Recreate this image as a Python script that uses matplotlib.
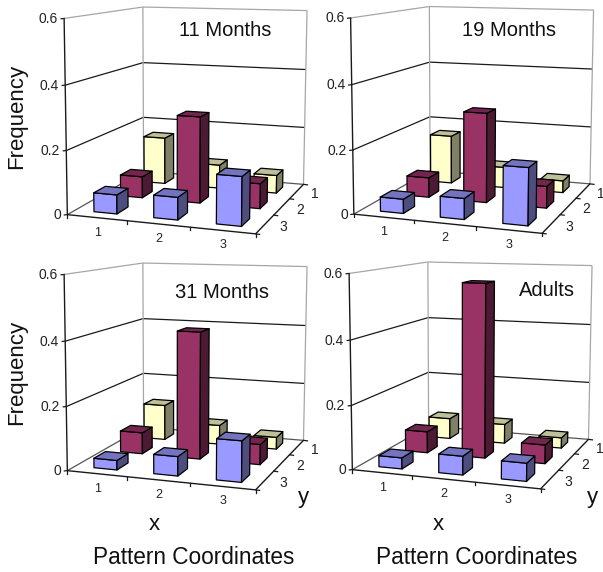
import numpy as np
import matplotlib
matplotlib.use("Agg")
import matplotlib.pyplot as plt
from matplotlib.patches import Polygon

plt.rcParams['font.family'] = ['Liberation Sans', 'DejaVu Sans']

# Frequencies: rows are y = 3 (front, blue), y = 2 (maroon), y = 1 (back, yellow); columns x = 1, 2, 3
titles = ["11 Months", "19 Months", "31 Months", "Adults"]
freq_11 = [[.06, .07, .15], [.07, .28, .08], [.16, .08, .06]]
freq_19 = [[.045, .065, .175], [.065, .29, .07], [.165, .07, .04]]
freq_31 = [[.03, .06, .125], [.07, .41, .065], [.12, .065, .04]]
freq_ad = [[.035, .058, .055], [.07, .56, .06], [.07, .065, .035]]
panels = [freq_11, freq_19, freq_31, freq_ad]
x_ticks = ["1", "2", "3"]
y_ticks = ["3", "2", "1"]
z_ticks = ["0", "0.2", "0.4", "0.6"]
z_vals = [0, .2, .4, .6]

front_cols = ["#9999FF", "#993366", "#FFFFCC"]
side_cols = ["#4D4D80", "#4D1A33", "#808066"]
top_cols = ["#7373BF", "#73264D", "#BFBF99"]

offsets = [(0, 0), (286.5, -0.5), (0, 256), (285, 255)]
title_pos = [(225, 31), (509, 31), (222, 292), (547, 291)]

# camera fitted to the chart frame (world box -> pixels)
world = np.array([(0, 0, 0), (0, 0, .6), (3, 0, 0), (3, 3, 0), (3, 3, .6), (0, 3, 0), (0, 3, .6)], float)
pix = np.array([(68, 214), (64, 18), (255, 235), (304, 183), (307, 11), (143, 172), (143, 7)], float)
A = []
for (X, Y, Z), (u, v) in zip(world, pix):
    A.append([X, Y, Z, 1, 0, 0, 0, 0, -u*X, -u*Y, -u*Z, -u])
    A.append([0, 0, 0, 0, X, Y, Z, 1, -v*X, -v*Y, -v*Z, -v])
P = np.linalg.svd(np.array(A))[2][-1].reshape(3, 4)


def proj(X, Y, Z, off):
    h = P @ np.array([X, Y, Z, 1.0])
    return h[0]/h[2] + off[0], h[1]/h[2] + off[1]


fig = plt.figure(figsize=(6.03, 5.72), dpi=100)
ax = fig.add_axes([0, 0, 1, 1])
ax.set_xlim(0, 603)
ax.set_ylim(572, 0)
ax.axis("off")

GREY = "#a6a6a6"
DARK = "#1a1a1a"
BX, BW, BY, BD = 0.315, 0.39, 0.28, 0.42   # bar footprint inside a cell


def line(p, q, off, c=DARK, lw=0.9, z=1):
    a, b = proj(*p, off), proj(*q, off)
    ax.plot([a[0], b[0]], [a[1], b[1]], color=c, lw=lw, zorder=z, solid_capstyle="butt")


for n, (vals, off) in enumerate(zip(panels, offsets)):
    # walls
    for zv in z_vals[1:]:
        c = GREY if zv == .6 else DARK
        line((0, 0, zv), (0, 3, zv), off, c)
        line((0, 3, zv), (3, 3, zv), off, c)
    line((0, 3, 0), (0, 3, .6), off, GREY)
    line((3, 3, 0), (3, 3, .6), off, GREY)
    line((0, 0, 0), (0, 0, .6), off, DARK, 1.0)
    # floor
    line((0, 0, 0), (0, 3, 0), off, "#555555")
    line((0, 3, 0), (3, 3, 0), off, "#555555")
    line((0, 0, 0), (3, 0, 0), off, DARK, 1.0, 50)
    line((3, 0, 0), (3, 3, 0), off, DARK, 1.0, 50)
    # ticks
    for zv, lab in zip(z_vals, z_ticks):
        a = proj(0, 0, zv, off)
        ax.plot([a[0]-3, a[0]], [a[1]+0.3, a[1]], color=DARK, lw=.9)
        ax.text(a[0]-6, a[1]+.5, lab, ha="right", va="center", fontsize=10, color="#222222")
    for i in range(4):
        a = proj(i, 0, 0, off)
        ax.plot([a[0], a[0]], [a[1], a[1]+3], color=DARK, lw=.9)
        b = proj(3, i, 0, off)
        ax.plot([b[0], b[0]+4], [b[1], b[1]+.5], color=DARK, lw=.9)
    for i, lab in enumerate(x_ticks):
        a = proj(i+.5, 0, 0, off)
        ax.text(a[0]+.5, a[1]+15, lab, ha="center", va="center", fontsize=9, color="#222222")
    for j, lab in enumerate(y_ticks):
        a = proj(3, j+.5, 0, off)
        ax.text(a[0]+18, a[1]+3, lab, ha="center", va="center", fontsize=10, color="#222222")
    # bars, back row first
    for j in (2, 1, 0):
        for i in (2, 1, 0):
            h = vals[j][i]
            x0, x1 = i+BX, i+BX+BW
            y0, y1 = j+BY, j+BY+BD
            order = (j+1)*10
            faces = [
                ([(x0, y0, 0), (x1, y0, 0), (x1, y0, h), (x0, y0, h)], front_cols[j]),
                ([(x1, y0, 0), (x1, y1, 0), (x1, y1, h), (x1, y0, h)], side_cols[j]),
                ([(x0, y0, h), (x1, y0, h), (x1, y1, h), (x0, y1, h)], top_cols[j]),
            ]
            for pts, col in faces:
                ax.add_patch(Polygon([proj(*p, off) for p in pts], closed=True, fc=col,
                                     ec="black", lw=.9, joinstyle="round", zorder=40-order))
    ax.text(*title_pos[n], titles[n], ha="center", va="center", fontsize=14.5, color="#111111", zorder=60)

for yc in (116, 372):
    ax.text(17, yc, "Frequency", rotation=90, ha="center", va="center", fontsize=16, color="#111111")
for xc, xl, yl in [(194, 154, 303), (477, 438, 592)]:
    ax.text(xc, 558, "Pattern Coordinates", ha="center", va="center", fontsize=16.3, color="#111111")
    ax.text(xl, 524, "x", ha="center", va="center", fontsize=16, color="#111111")
    ax.text(yl, 497, "y", ha="center", va="center", fontsize=16, color="#111111")

fig.savefig("out.png", dpi=100)
